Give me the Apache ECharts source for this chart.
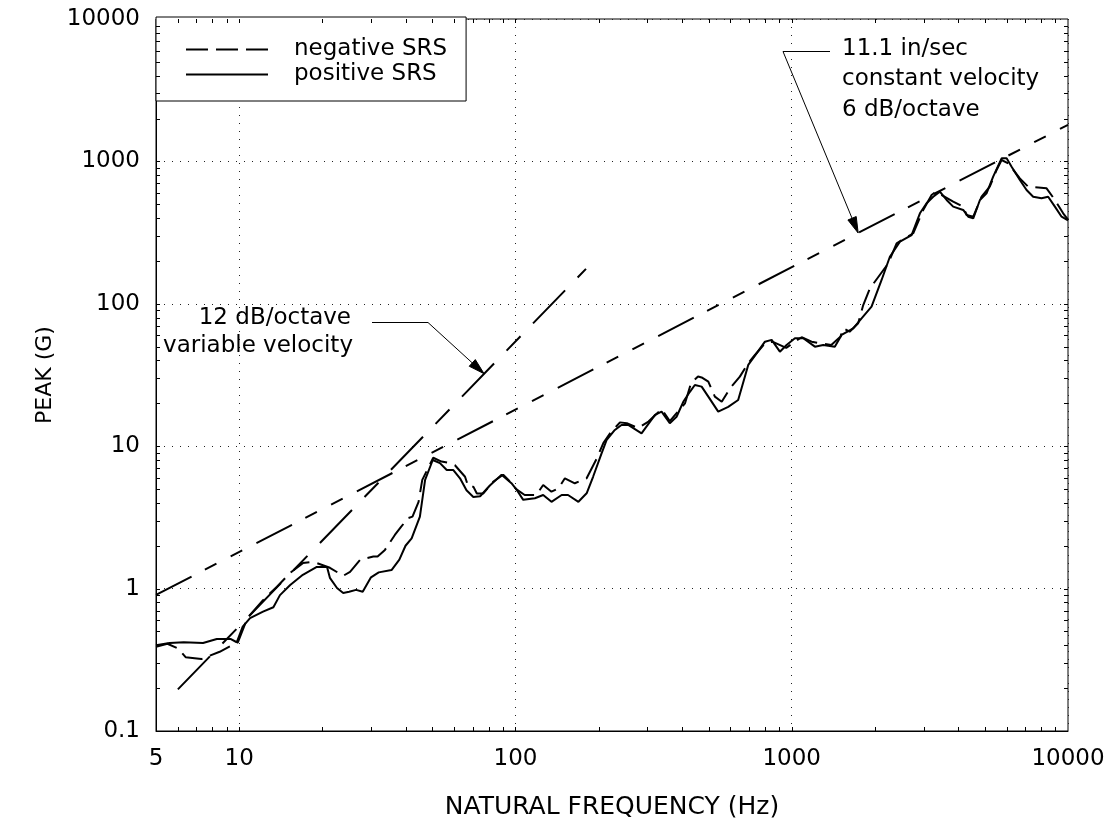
<!DOCTYPE html>
<html><head><meta charset="utf-8">
<script src="https://cdn.jsdelivr.net/npm/echarts@6/dist/echarts.min.js"></script>
<style>html,body{margin:0;padding:0;background:#fff}#c{width:1114px;height:830px}</style>
</head><body><div id="c"></div>
<script>
const FONT = '"DejaVu Sans", "Liberation Sans", Arial, sans-serif';
const FS = 23;

// Tick values
const xTicks = [5, 10, 100, 1000, 10000];
const yTicks = [0.1, 1, 10, 100, 1000, 10000];
const xTickMarks = [6,7,8,9,10,20,30,40,50,60,70,80,90,100,200,300,400,500,600,700,800,900,1000,2000,3000,4000,5000,6000,7000,8000,9000];
const yTickMarks = [0.2,0.3,0.4,0.5,0.6,0.7,0.8,0.9,1,2,3,4,5,6,7,8,9,10,20,30,40,50,60,70,80,90,100,200,300,400,500,600,700,800,900,1000,2000,3000,4000,5000,6000,7000,8000,9000];

// positive SRS (solid)
const posFreq = [5,5.6,6.3,7.4,8.3,9.3,9.8,10.3,10.95,12.2,13.3,14.05,15.3,17,19.1,20.8,21.3,22.6,23.8,25,26.5,28,30,32,35.6,38,40,42.1,45.1,47.1,50.2,53.3,56.4,59.6,63,66.5,70.4,74.5,80.8,89.1,96.7,100.6,106.7,117.6,126,135,147,155,169,181,191,205,214,229,242,256,286,320,338,362,383,405,428,446,472,499,542,589,640,696,746,800,846,906,958,1027,1101,1213,1300,1432,1515,1670,1790,1945,2115,2266,2464,2716,2911,3077,3252,3437,3636,3841,4175,4355,4540,4800,5072,5360,5750,5995,6250,6695,7080,7480,8020,8475,8965,9480,10000];
const posPeak = [0.40,0.415,0.42,0.415,0.443,0.443,0.42,0.54,0.62,0.69,0.74,0.90,1.06,1.25,1.42,1.42,1.19,1.01,0.93,0.95,0.98,0.95,1.2,1.3,1.35,1.6,2.0,2.25,3.2,5.8,8.0,7.6,6.8,6.8,5.95,4.9,4.4,4.45,5.3,6.3,5.5,5.0,4.2,4.31,4.54,4.07,4.54,4.54,4.07,4.67,6.1,8.9,11.1,13.0,14.1,14.1,12.3,16.6,17.5,14.5,16.1,20.5,24.1,26.9,26.2,22.3,17.5,18.9,21.1,37.2,44.9,54.2,55.8,46.1,51.4,57.3,57.3,50,51.4,50,60.4,67.3,79.1,95.4,147,214,273,304,432,508,565,613,536,481,456,409,398,536,597,781,1051,1051,918,740,630,565,551,565,481,409,385];

// negative SRS (dashed)
const negFreq = [5,5.5,6,6.4,7.3,8.5,9.9,10.7,12.2,13.7,15.3,17,18,19.1,21.3,23.8,25.2,27.4,30.6,31.7,33.7,36.6,38.6,40.8,42.4,44.6,46,50.4,54,58,60.4,65.7,67.5,70.4,72.5,76.4,83,90.3,96,100.6,108,119,126,135,143,151,164,181,197,208,220,239,253,278,303,338,362,411,432,458,472,499,527,558,598,649,695,736,800,851,955,1027,1086,1180,1265,1390,1500,1536,1620,1740,1815,1918,2235,2397,2753,2992,3208,3330,3841,4175,4295,4540,4866,5210,5515,5750,6075,6695,7180,8365,8965,9605,10000];
const negPeak = [0.39,0.41,0.38,0.33,0.32,0.36,0.42,0.62,0.83,1.03,1.29,1.51,1.53,1.51,1.40,1.23,1.31,1.59,1.68,1.68,1.87,2.38,2.72,3.12,3.2,4.07,5.8,8.3,7.8,7.6,7.35,6.1,5.2,5.2,4.65,4.65,5.63,6.3,5.6,5.0,4.54,4.54,5.34,4.79,5.06,5.95,5.49,5.95,8.2,10.5,12.3,14.7,14.5,13.4,14.9,18.2,15,20.0,27.7,30.9,30.4,28.4,22.3,20.5,25.5,30.8,38.2,43.7,52.8,54.2,49,54.2,58.2,54.2,52.8,51.4,58.6,67.3,63.7,73,98,128,192,266,313,456,581,613,521,481,420,409,565,664,871,1023,970,760,664,647,536,432,390];

// reference slopes (end points)
const line12dBFreq = [6, 180];
const line12dBPeak = [0.196, 176];
const line6dBFreq = [5, 10000];
const line6dBPeak = [0.9035, 1807];

// annotation anchor points on the reference lines
const arrowTip12 = [77, 32.3];
const arrowTip6 = [1740, 314];

const pairs = (a, b) => a.map((v, i) => [v, b[i]]);
const fmt = v => String(+Number(v).toPrecision(6));

const chart = echarts.init(document.getElementById('c'), null, {renderer: 'canvas'});

function tickRender(axis) {
  return function (params, api) {
    const cs = params.coordSys, L = 4;
    const st = {stroke: '#000', lineWidth: 1};
    if (axis === 'x') {
      const x = Math.round(api.coord([api.value(0), 1])[0]) + 0.5;
      const b = cs.y + cs.height, t = cs.y;
      return {type: 'group', children: [
        {type: 'line', shape: {x1: x, y1: b, x2: x, y2: b - L}, style: st},
        {type: 'line', shape: {x1: x, y1: t, x2: x, y2: t + L}, style: st}
      ]};
    } else {
      const y = Math.round(api.coord([10, api.value(1)])[1]) + 0.5;
      const l = cs.x, r = cs.x + cs.width;
      return {type: 'group', children: [
        {type: 'line', shape: {x1: l, y1: y, x2: l + L, y2: y}, style: st},
        {type: 'line', shape: {x1: r, y1: y, x2: r - L, y2: y}, style: st}
      ]};
    }
  };
}

const axisCommon = {
  type: 'log', logBase: 10,
  nameLocation: 'middle',
  axisLine: {show: true, lineStyle: {color: '#000', width: 1}},
  axisTick: {show: false},
  minorTick: {show: false},
  splitLine: {show: true, lineStyle: {color: '#222', width: 1, type: [1, 7]}}
};

chart.setOption({
  animation: false,
  backgroundColor: '#fff',
  grid: {left: 156, right: 46, top: 19, bottom: 99, show: true, borderColor: '#000', borderWidth: 1, outerBoundsMode: 'none', containLabel: false},
  xAxis: Object.assign({}, axisCommon, {
    min: 5, max: 10000, name: 'NATURAL FREQUENCY (Hz)', nameGap: 64,
    nameTextStyle: {fontFamily: FONT, fontSize: 25, color: '#000'},
    axisLabel: {customValues: xTicks, formatter: fmt, margin: 17, fontFamily: FONT, fontSize: FS, color: '#000'}
  }),
  yAxis: Object.assign({}, axisCommon, {
    min: 0.1, max: 10000, name: 'PEAK (G)', nameGap: 84, nameRotate: 90,
    nameTextStyle: {fontFamily: FONT, fontSize: 22, color: '#000'},
    axisLabel: {customValues: yTicks, formatter: fmt, margin: 16, fontFamily: FONT, fontSize: FS, color: '#000'}
  }),
  legend: {
    orient: 'vertical', left: 156, top: 17,
    data: ['negative SRS', 'positive SRS'],
    itemWidth: 82, itemHeight: 14, itemGap: 2,
    padding: [21, 19, 15, 29],
    borderColor: '#000', borderWidth: 1, backgroundColor: '#fff',
    selectedMode: false,
    itemStyle: {opacity: 0, color: 'rgba(0,0,0,0)', borderWidth: 0},
    textStyle: {fontFamily: FONT, fontSize: FS, color: '#000', padding: [0, 0, 0, 21]}
  },
  series: [
    {type: 'custom', silent: true, renderItem: tickRender('x'), data: xTickMarks.map(v => [v, 1]), encode: {x: 0, y: 1}, z: 5},
    {type: 'custom', silent: true, renderItem: tickRender('y'), data: yTickMarks.map(v => [10, v]), encode: {x: 0, y: 1}, z: 5},
    {name: 'line12', type: 'line', data: pairs(line12dBFreq, line12dBPeak), symbol: 'none', silent: true,
     lineStyle: {color: '#000', width: 2, type: [46, 18, 20, 18]}},
    {name: 'line6', type: 'line', data: pairs(line6dBFreq, line6dBPeak), symbol: 'none', silent: true,
     lineStyle: {color: '#000', width: 2, type: [40, 15, 13, 16, 13, 16]}},
    {name: 'negative SRS', type: 'line', data: pairs(negFreq, negPeak), symbol: 'none',
     lineStyle: {color: '#000', width: 2, type: [22, 8]}, itemStyle: {color: '#000'}},
    {name: 'positive SRS', type: 'line', data: pairs(posFreq, posPeak), symbol: 'none',
     lineStyle: {color: '#000', width: 2, type: 'solid'}, itemStyle: {color: '#000'}}
  ]
});

// annotations
function arrow(points, tip) {
  const last = points[points.length - 1];
  const dx = tip[0] - last[0], dy = tip[1] - last[1];
  const len = Math.hypot(dx, dy), ux = dx / len, uy = dy / len;
  const L = 16, W = 4.5;
  const bx = tip[0] - ux * L, by = tip[1] - uy * L;
  return [
    {type: 'polyline', shape: {points: points.concat([[bx, by]])}, style: {stroke: '#000', lineWidth: 1, fill: null}, z: 100},
    {type: 'polygon', shape: {points: [tip, [bx - uy * W, by + ux * W], [bx + uy * W, by - ux * W]]}, style: {fill: '#000', stroke: '#000', lineWidth: 1}, z: 100}
  ];
}
const t12 = chart.convertToPixel({gridIndex: 0}, arrowTip12);
const t6 = chart.convertToPixel({gridIndex: 0}, arrowTip6);
const txt = (text, x, y, align) => ({type: 'text', x: x, y: y, z: 100,
  style: {text: text, fontFamily: FONT, fontSize: FS, fill: '#000', align: align, verticalAlign: 'middle'}});
chart.setOption({
  graphic: [
    txt('12 dB/octave', 351, 318, 'right'),
    txt('variable velocity', 353, 346, 'right'),
    txt('11.1 in/sec', 842, 49, 'left'),
    txt('constant velocity', 842, 79.5, 'left'),
    txt('6 dB/octave', 842, 110, 'left')
  ].concat(arrow([[372, 322.5], [428, 322.5]], t12))
   .concat(arrow([[830, 51.5], [783, 51.5]], t6))
});
</script>
</body></html>
